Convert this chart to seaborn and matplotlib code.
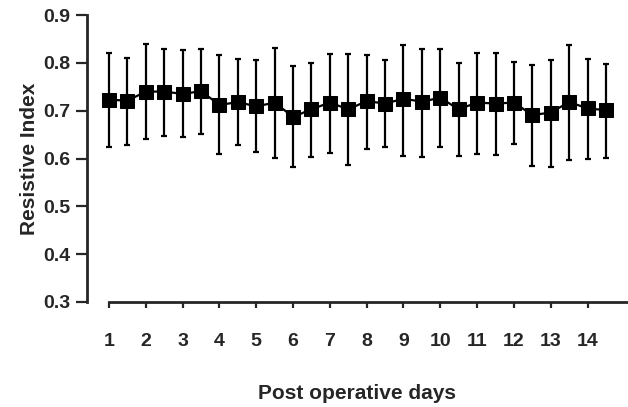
import numpy as np
import pandas as pd
import matplotlib
matplotlib.use("Agg")
import matplotlib.pyplot as plt
import seaborn as sns

# two readings per post operative day (28 measurements over 14 days)
days = [1 + 0.5 * i for i in range(28)]
mean_ri = [0.723, 0.721, 0.740, 0.740, 0.735, 0.741, 0.712, 0.718, 0.709, 0.717,
           0.687, 0.703, 0.717, 0.703, 0.720, 0.715, 0.725, 0.719, 0.727, 0.703,
           0.717, 0.715, 0.717, 0.691, 0.696, 0.718, 0.705, 0.701]
upper_ri = [0.821, 0.811, 0.839, 0.830, 0.826, 0.830, 0.816, 0.809, 0.805, 0.831,
            0.793, 0.800, 0.819, 0.819, 0.816, 0.805, 0.837, 0.830, 0.828, 0.800,
            0.821, 0.821, 0.802, 0.795, 0.806, 0.837, 0.809, 0.798]
lower_ri = [0.624, 0.628, 0.640, 0.648, 0.644, 0.652, 0.610, 0.629, 0.614, 0.602,
            0.582, 0.604, 0.612, 0.586, 0.619, 0.624, 0.606, 0.603, 0.624, 0.605,
            0.610, 0.607, 0.630, 0.585, 0.582, 0.596, 0.600, 0.601]
day_ticks = list(range(1, 15))
ri_ticks = [0.3, 0.4, 0.5, 0.6, 0.7, 0.8, 0.9]

df = pd.DataFrame({"day": days, "ri": mean_ri, "hi": upper_ri, "lo": lower_ri})

sns.set_style("ticks")
plt.rcParams["font.family"] = ["Liberation Sans", "DejaVu Sans"]
plt.rcParams["font.weight"] = "bold"

fig = plt.figure(figsize=(6.28, 4.07), dpi=100)
ax = fig.add_axes([0.1385, 0.258, 0.8615, 0.705])

ax.errorbar(df["day"], df["ri"],
            yerr=[df["ri"] - df["lo"], df["hi"] - df["ri"]],
            fmt="none", ecolor="black", elinewidth=1.6, capsize=2, capthick=1.6,
            zorder=2)
sns.lineplot(data=df, x="day", y="ri", color="black", linewidth=1.6,
             marker="s", markersize=9.5, markeredgecolor="black", ax=ax, zorder=3)

ax.set_xlim(0.4, 15.1)
ax.set_ylim(0.3, 0.9)
ax.set_xticks(day_ticks)
ax.set_yticks(ri_ticks)
ax.set_yticklabels([f"{t:.1f}" for t in ri_ticks])

ax.spines["top"].set_visible(False)
ax.spines["right"].set_visible(False)
ax.spines["left"].set_linewidth(2)
ax.spines["bottom"].set_linewidth(2)
ax.spines["bottom"].set_bounds(1, 15.1)

ax.tick_params(axis="x", direction="out", length=4, width=1.6, pad=18, labelsize=14)
ax.tick_params(axis="y", direction="out", length=8, width=1.6, pad=4, labelsize=14)

ax.set_xlabel("Post operative days", fontsize=15, fontweight="bold", labelpad=25)
ax.set_ylabel("Resistive Index", fontsize=15, fontweight="bold", labelpad=3)

fig.savefig("out.png", dpi=100)
plt.close(fig)
